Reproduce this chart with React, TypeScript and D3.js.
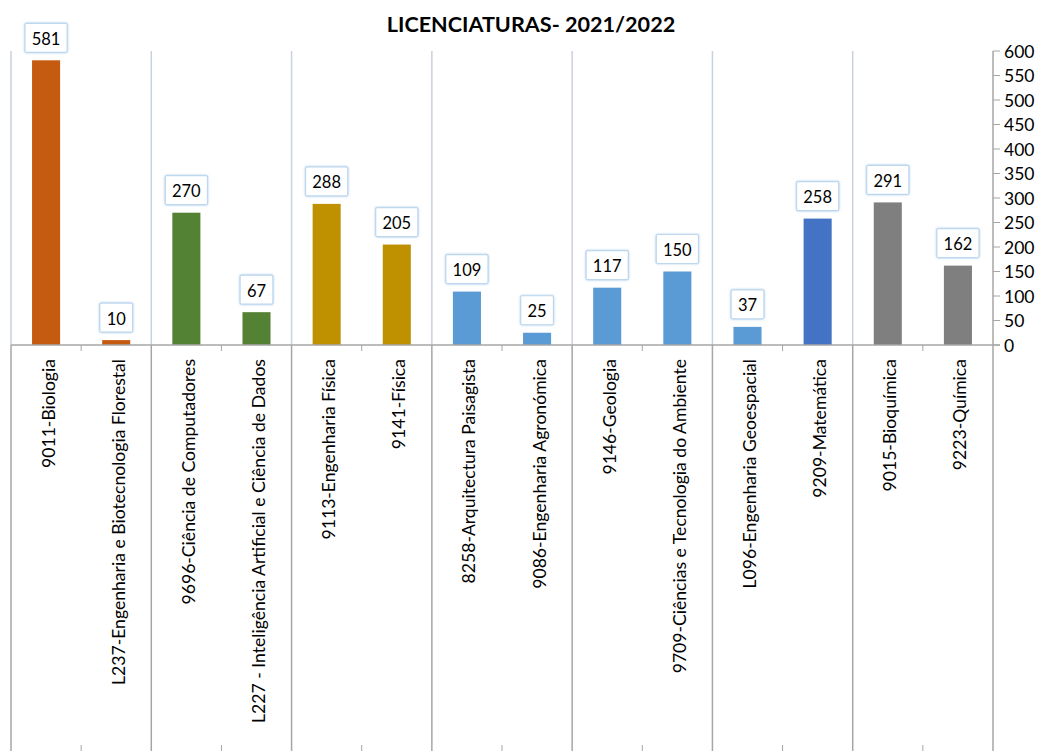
import React from "react";
import * as d3 from "d3";

const categories = [
  "9011-Biologia",
  "L237-Engenharia e Biotecnologia Florestal",
  "9696-Ciência de Computadores",
  "L227 - Inteligência Artificial e Ciência de Dados",
  "9113-Engenharia Física",
  "9141-Física",
  "8258-Arquitectura Paisagista",
  "9086-Engenharia Agronómica",
  "9146-Geologia",
  "9709-Ciências e Tecnologia do Ambiente",
  "L096-Engenharia Geoespacial",
  "9209-Matemática",
  "9015-Bioquímica",
  "9223-Química",
];
const values = [581, 10, 270, 67, 288, 205, 109, 25, 117, 150, 37, 258, 291, 162];
const barColors = [
  "#C55A11", "#C55A11",
  "#548235", "#548235",
  "#BF9000", "#BF9000",
  "#5B9BD5", "#5B9BD5",
  "#5B9BD5", "#5B9BD5",
  "#5B9BD5", "#4472C4",
  "#7F7F7F", "#7F7F7F",
];
const yTicks = [0, 50, 100, 150, 200, 250, 300, 350, 400, 450, 500, 550, 600];
const title = "LICENCIATURAS- 2021/2022";

const W = 1045;
const H = 751;
const left = 11;
const right = 993;
const top = 51;
const base = 345;
const font = "Lato, 'Liberation Sans', sans-serif";

export default function App() {
  const x = d3
    .scaleBand<number>()
    .domain(d3.range(categories.length))
    .range([left, right])
    .paddingInner(0.6)
    .paddingOuter(0.3);
  const y = d3.scaleLinear().domain([0, 600]).range([base, top]);
  const step = x.step();
  const groupLines = d3.range(0, categories.length + 1, 2).map((i) => left + i * step);
  const innerTicks = d3.range(1, categories.length, 2).map((i) => left + i * step);

  return (
    <svg width={W} height={H} style={{ position: "absolute", left: 0, top: 0, background: "#fff" }} fontFamily={font}>
      <defs>
        <filter id="sh" x="-20%" y="-20%" width="140%" height="140%">
          <feDropShadow dx="0" dy="0" stdDeviation="1.2" floodColor="#9DC3E6" floodOpacity="0.8" />
        </filter>
      </defs>
      <text x={531} y={32} textAnchor="middle" fontSize={21.6} fontWeight="bold" fill="#000">
        {title}
      </text>
      {groupLines.slice(0, -1).map((gx, i) => (
        <line key={"gp" + i} x1={gx} x2={gx} y1={top} y2={base} stroke="#C9D0DE" strokeWidth={1.5} />
      ))}
      {groupLines.map((gx, i) => (
        <line key={"gb" + i} x1={gx} x2={gx} y1={base} y2={H} stroke="#A6A6A6" strokeWidth={1.5} />
      ))}
      {innerTicks.map((tx, i) => (
        <g key={"it" + i}>
          <line x1={tx} x2={tx} y1={base} y2={base + 6} stroke="#A6A6A6" strokeWidth={1} />
          <line x1={tx} x2={tx} y1={H - 6} y2={H} stroke="#A6A6A6" strokeWidth={1} />
        </g>
      ))}
      {values.map((v, i) => (
        <rect key={"b" + i} x={x(i)} y={y(v)} width={x.bandwidth()} height={base - y(v)} fill={barColors[i]} />
      ))}
      <line x1={left} x2={right + 7} y1={base} y2={base} stroke="#A6A6A6" strokeWidth={1.5} />
      <line x1={right} x2={right} y1={top} y2={base} stroke="#A6A6A6" strokeWidth={1.5} />
      {yTicks.map((t) => (
        <g key={"yt" + t}>
          <line x1={right} x2={right + 7} y1={y(t)} y2={y(t)} stroke="#A6A6A6" strokeWidth={1} />
          <text x={right + 11} y={y(t)} dominantBaseline="central" fontSize={17.5} fill="#000">
            {t}
          </text>
        </g>
      ))}
      {values.map((v, i) => {
        const cx = (x(i) as number) + x.bandwidth() / 2;
        const s = String(v);
        const w = s.length * 9.4 + 14;
        const h = 29;
        const by = y(v) - 8 - h;
        return (
          <g key={"dl" + i}>
            <rect x={cx - w / 2} y={by} width={w} height={h} fill="#fff" stroke="#BDD7EE" strokeWidth={1.2} rx={1.5} filter="url(#sh)" />
            <text x={cx} y={by + h / 2 + 1} textAnchor="middle" dominantBaseline="central" fontSize={16.5} fill="#000">
              {s}
            </text>
          </g>
        );
      })}
      {categories.map((c, i) => {
        const cx = (x(i) as number) + x.bandwidth() / 2 + 2;
        return (
          <text
            key={"cl" + i}
            transform={`translate(${cx},359) rotate(-90)`}
            textAnchor="end"
            dominantBaseline="central"
            fontSize={17.6}
            fill="#000"
          >
            {c}
          </text>
        );
      })}
    </svg>
  );
}
